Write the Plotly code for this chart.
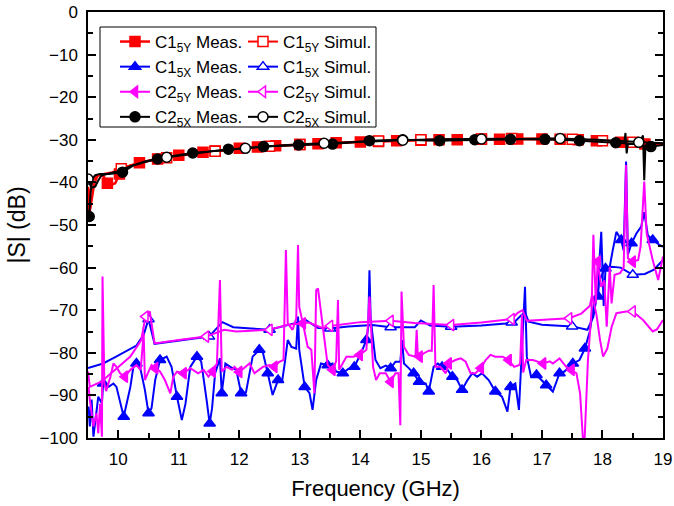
import numpy as np
import plotly.graph_objects as go

# ---------------- data ----------------
# C1 5Y, measured
c1y_meas_f = [9.50, 9.52, 9.55, 9.60, 9.65, 9.70, 9.76, 9.82, 9.88, 9.95, 10.02, 10.08, 10.2, 10.35,
              10.5, 10.65, 10.8, 11.0, 11.2, 11.4, 11.6, 11.8, 12.0, 12.3, 12.6, 13.0, 13.3, 13.6,
              14.0, 14.3, 14.6, 15.0, 15.3, 15.6, 16.0, 16.3, 16.6, 17.0, 17.3, 17.6, 17.9, 18.1,
              18.3, 18.5, 18.7, 18.9, 19.0]
c1y_meas_s = [-41.0, -47.5, -45.0, -40.5, -38.6, -38.2, -38.6, -40.2, -40.6, -40.2, -38.0, -36.8, -36.0, -35.4,
              -34.9, -34.5, -34.1, -33.6, -33.2, -32.9, -32.6, -32.3, -32.0, -31.7, -31.4, -31.1, -30.9, -30.7,
              -30.5, -30.4, -30.2, -30.1, -30.0, -30.0, -29.9, -29.9, -29.8, -29.8, -29.9, -30.0, -30.2, -30.4,
              -30.6, -30.8, -31.0, -31.0, -30.8]
c1y_meas_mk = [9.82, 10.0, 10.35, 10.65, 11.0, 11.4, 11.6, 12.0, 12.3, 12.6, 13.0, 13.3, 13.6, 14.0, 14.3,
               14.6, 15.0, 15.3, 15.6, 16.0, 16.3, 16.6, 17.0, 17.3, 17.6, 17.9, 18.3, 18.7]

# C1 5Y, simulated
c1y_sim_f = [9.50, 9.53, 9.58, 9.65, 9.75, 9.9, 10.05, 10.2, 10.5, 10.8, 11.2, 11.6, 12.0, 12.5, 13.0,
             13.5, 14.0, 14.3, 14.5, 15.0, 15.5, 16.0, 16.5, 17.0, 17.5, 18.0, 18.5, 19.0]
c1y_sim_s = [-45.0, -42.0, -39.5, -38.4, -38.0, -37.6, -36.8, -36.0, -35.0, -34.2, -33.4, -32.7, -32.1, -31.5, -31.1,
             -30.7, -30.4, -30.3, -30.2, -30.0, -29.9, -29.8, -29.7, -29.7, -29.9, -30.2, -30.6, -31.0]
c1y_sim_mk = [10.05, 10.8, 11.6, 12.5, 13.0, 14.3, 15.0, 16.0, 16.5, 17.5, 18.0, 18.5]

# C1 5X, measured
c1x_meas_f = [9.51, 9.53, 9.56, 9.59, 9.67, 9.73, 9.75, 9.84, 9.92, 9.97, 10.09, 10.20, 10.25, 10.30, 10.37,
              10.44, 10.50, 10.55, 10.61, 10.69, 10.80, 10.88, 10.97, 11.05, 11.11, 11.19, 11.30, 11.37,
              11.46, 11.51, 11.55, 11.60, 11.68, 11.71, 11.77, 11.85, 11.95, 12.03, 12.11, 12.22, 12.33,
              12.39, 12.47, 12.55, 12.64, 12.71, 12.75, 12.80, 12.86, 12.94, 12.97, 12.99, 13.08, 13.16,
              13.21, 13.27, 13.35, 13.46, 13.54, 13.60, 13.71, 13.80, 13.90, 14.01, 14.10, 14.13, 14.15,
              14.17, 14.25, 14.33, 14.42, 14.50, 14.58, 14.66, 14.69, 14.72, 14.80, 14.88, 14.97, 15.08,
              15.13, 15.21, 15.28, 15.35, 15.44, 15.52, 15.60, 15.68, 15.77, 15.85, 15.93, 16.01, 16.12,
              16.23, 16.34, 16.43, 16.48, 16.56, 16.62, 16.66, 16.72, 16.75, 16.82, 16.91, 16.99, 17.07,
              17.18, 17.24, 17.29, 17.37, 17.51, 17.62, 17.71, 17.79, 17.87, 17.93, 17.95, 17.98, 18.02,
              18.05, 18.12, 18.17, 18.23, 18.31, 18.35, 18.39, 18.42, 18.48, 18.56, 18.64, 18.69, 18.75,
              18.83, 18.94, 19.0]
c1x_meas_s = [-92.6, -97.3, -91.0, -99.7, -90.3, -91.9, -87.2, -88.0, -87.2, -88.0, -95.0, -88.0, -83.3, -82.5, -84.0,
              -88.7, -94.2, -93.0, -86.4, -81.7, -80.9, -83.3, -90.3, -95.8, -92.0, -83.3, -80.9, -82.0,
              -91.1, -96.6, -93.0, -84.8, -81.3, -89.5, -82.5, -83.3, -84.0, -89.5, -89.3, -80.9, -79.3,
              -80.0, -84.8, -89.9, -86.4, -86.4, -82.5, -77.0, -78.6, -79.0, -71.5, -79.3, -88.0, -89.5,
              -93.4, -86.4, -82.5, -82.9, -82.5, -84.4, -84.8, -83.8, -83.3, -80.1, -77.0, -74.0, -60.6,
              -72.0, -81.7, -83.6, -83.0, -83.6, -82.1, -82.1, -77.0, -82.5, -83.6, -84.8, -86.8, -87.2,
              -89.1, -83.3, -82.5, -83.3, -84.0, -85.6, -86.4, -88.7, -86.4, -84.8, -85.6, -84.8, -86.4,
              -89.1, -90.3, -93.8, -88.0, -87.2, -93.4, -82.0, -64.5, -80.9, -85.6, -85.2, -86.4, -87.6,
              -89.1, -86.8, -84.8, -84.4, -82.5, -81.7, -79.0, -75.0, -67.6, -66.8, -58.2, -51.6, -69.0,
              -60.2, -59.8, -55.9, -51.6, -53.5, -56.0, -35.1, -57.0, -54.3, -52.0, -50.4, -47.0, -52.5,
              -53.5, -54.7, -55.1]
c1x_meas_mk = [9.75, 10.09, 10.30, 10.50, 10.69, 10.97, 11.30, 11.51, 11.71, 12.03, 12.33, 12.47, 12.64,
               13.08, 13.46, 13.71, 13.90, 14.10, 14.50, 14.88, 14.97, 15.13, 15.35, 15.52, 15.68, 16.23,
               16.48, 16.91, 17.07, 17.29, 17.51, 17.71, 17.93, 18.05, 18.31, 18.48, 18.83]

# C1 5X, simulated
c1x_sim_f = [9.50, 9.75, 9.95, 10.15, 10.3, 10.42, 10.5, 10.6, 11.0, 11.5, 11.72, 11.9, 12.2, 12.5, 12.8,
             13.1, 13.3, 13.5, 13.8, 14.2, 14.5, 14.9, 15.0, 15.15, 15.5, 16.0, 16.4, 16.5, 16.55, 16.65,
             16.72, 16.78, 17.0, 17.5, 17.75, 17.85, 17.95, 18.03, 18.15, 18.3, 18.5, 18.7, 18.85, 19.0]
c1x_sim_s = [-83.6, -82.5, -81.0, -79.5, -78.3, -75.8, -72.1, -77.9, -77.2, -76.2, -72.8, -74.0, -74.3, -74.6, -73.5,
             -72.3, -74.2, -74.3, -73.8, -73.5, -74.0, -74.0, -72.4, -73.6, -73.9, -73.6, -73.1, -72.9, -72.7, -71.3,
             -70.5, -72.7, -73.4, -73.8, -74.6, -71.5, -63.0, -60.5, -59.8, -60.0, -61.7, -61.5, -60.5, -58.2]
c1x_sim_mk = [10.5, 11.5, 12.5, 13.5, 14.5, 15.5, 16.5, 17.5, 18.5]

# C2 5Y, measured
c2y_meas_f = [9.51, 9.53, 9.59, 9.64, 9.67, 9.70, 9.73, 9.74, 9.77, 9.80, 9.87, 9.92, 9.97, 10.03, 10.11,
              10.20, 10.30, 10.37, 10.42, 10.44, 10.50, 10.55, 10.61, 10.69, 10.77, 10.86, 10.91, 10.97,
              11.08, 11.19, 11.32, 11.41, 11.49, 11.56, 11.63, 11.68, 11.71, 11.79, 11.88, 11.92, 12.0,
              12.17, 12.25, 12.39, 12.50, 12.58, 12.66, 12.73, 12.77, 12.80, 12.88, 12.94, 12.97, 12.99,
              13.05, 13.13, 13.19, 13.24, 13.27, 13.30, 13.38, 13.46, 13.54, 13.60, 13.63, 13.65, 13.77,
              13.88, 13.99, 14.10, 14.15, 14.21, 14.26, 14.32, 14.42, 14.50, 14.58, 14.63, 14.66, 14.68,
              14.72, 14.80, 14.91, 14.93, 14.95, 14.98, 15.05, 15.13, 15.18, 15.21, 15.24, 15.32, 15.41,
              15.46, 15.57, 15.66, 15.74, 15.82, 15.90, 15.99, 16.07, 16.15, 16.23, 16.35, 16.45, 16.54,
              16.62, 16.64, 16.67, 16.69, 16.74, 16.85, 17.02, 17.13, 17.18, 17.29, 17.40, 17.49, 17.57,
              17.63, 17.68, 17.70, 17.73, 17.76, 17.82, 17.85, 17.89, 17.92, 17.98, 18.03, 18.07, 18.12,
              18.15, 18.20, 18.29, 18.35, 18.39, 18.42, 18.50, 18.59, 18.63, 18.69, 18.73, 18.83, 18.92,
              18.97, 19.0]
c2y_meas_s = [-88.0, -91.1, -97.3, -94.2, -98.9, -92.0, -99.7, -62.1, -87.2, -89.0, -85.6, -82.5, -83.3, -84.8, -85.6,
              -84.0, -82.9, -84.0, -75.4, -86.4, -84.4, -82.9, -83.6, -84.4, -86.4, -89.5, -85.6, -84.4,
              -84.8, -83.6, -84.8, -84.0, -85.6, -84.4, -82.5, -62.9, -84.4, -83.3, -84.0, -83.3, -84.5,
              -82.5, -84.8, -83.3, -82.9, -83.3, -82.1, -81.7, -55.9, -73.1, -74.6, -72.0, -54.7, -69.2,
              -73.1, -78.6, -79.3, -89.5, -65.3, -64.9, -73.9, -82.9, -84.0, -82.0, -67.6, -84.0, -80.9,
              -80.9, -80.5, -79.3, -66.8, -83.3, -86.4, -84.8, -84.8, -86.8, -84.8, -84.8, -97.0, -65.6,
              -78.6, -80.5, -80.9, -74.6, -80.9, -80.9, -80.1, -79.5, -79.5, -64.1, -83.3, -83.3, -84.8,
              -82.5, -81.7, -81.3, -82.1, -84.8, -84.8, -83.6, -81.7, -80.5, -80.9, -80.9, -81.7, -83.3,
              -82.9, -82.5, -71.0, -84.6, -81.7, -81.7, -82.5, -82.0, -82.5, -81.3, -83.3, -84.0, -84.8,
              -89.5, -101.0, -102.0, -91.1, -81.7, -70.0, -52.3, -68.4, -58.6, -64.5, -63.0, -73.9, -59.8,
              -68.4, -61.7, -61.3, -60.0, -35.9, -57.8, -58.6, -58.2, -55.0, -39.8, -52.0, -58.2, -62.9,
              -59.0, -57.4]
c2y_meas_mk = [10.11, 10.59, 11.08, 11.57, 12.06, 12.55, 13.04, 13.53, 14.02, 14.51, 14.98, 15.49, 15.98,
               16.47, 16.96, 17.45, 17.94, 18.50]

# C2 5Y, simulated
c2y_sim_f = [9.50, 9.53, 9.72, 9.95, 10.2, 10.38, 10.45, 10.52, 10.6, 11.0, 11.45, 11.75, 11.95, 12.5, 12.77,
             13.15, 13.38, 13.5, 14.0, 14.5, 14.9, 15.5, 16.0, 16.5, 16.6, 16.68, 16.75, 17.1, 17.45, 17.65,
             17.79, 17.83, 17.9, 17.96, 18.01, 18.08, 18.15, 18.23, 18.39, 18.5, 18.67, 18.83, 18.9, 19.0]
c2y_sim_s = [-84.4, -88.0, -86.8, -84.0, -80.9, -77.0, -71.5, -70.3, -77.8, -77.0, -76.2, -74.6, -75.0, -74.6, -73.5,
             -72.9, -74.2, -73.7, -72.8, -72.5, -73.0, -73.5, -72.9, -72.1, -70.6, -70.0, -72.5, -72.2, -71.9, -70.8,
             -69.0, -66.4, -71.0, -77.0, -80.9, -79.0, -74.0, -70.7, -70.3, -70.3, -72.3, -75.0, -74.5, -72.3]
c2y_sim_mk = [10.45, 11.45, 12.5, 13.5, 14.5, 15.5, 16.5, 17.45, 18.5]

# C2 5X, measured
c2x_meas_f = [9.50, 9.52, 9.54, 9.57, 9.62, 9.70, 9.85, 10.07, 10.25, 10.45, 10.65, 10.9, 11.23, 11.5,
              11.82, 12.1, 12.40, 12.7, 12.98, 13.25, 13.54, 13.85, 14.15, 14.4, 14.70, 15.0, 15.31, 15.6,
              15.89, 16.2, 16.48, 16.75, 17.05, 17.35, 17.62, 17.9, 18.22, 18.36, 18.38, 18.40, 18.42,
              18.5, 18.6, 18.67, 18.69, 18.71, 18.80, 18.9, 19.0]
c2x_meas_s = [-46.5, -48.0, -43.0, -39.2, -38.3, -38.0, -38.0, -37.6, -36.0, -35.0, -34.5, -33.8, -33.1, -32.7,
              -32.2, -31.9, -31.6, -31.4, -31.2, -31.1, -31.0, -30.6, -30.2, -30.1, -30.0, -30.1, -30.2, -30.1,
              -30.0, -29.9, -29.9, -29.9, -29.9, -30.0, -30.2, -30.4, -30.7, -30.8, -28.4, -33.2, -30.9,
              -31.0, -31.0, -29.0, -39.5, -31.4, -31.6, -31.4, -31.2]
c2x_meas_mk = [9.52, 10.07, 10.65, 11.23, 11.82, 12.40, 12.98, 13.54, 14.15, 14.70, 15.31, 15.89, 16.48,
               17.05, 17.62, 18.22, 18.80]

# C2 5X, simulated
c2x_sim_f = [9.50, 9.53, 9.57, 9.62, 9.66, 9.72, 9.85, 10.0, 10.2, 10.5, 10.8, 11.2, 11.6, 12.1, 12.6,
             13.1, 13.4, 14.1, 14.7, 15.3, 16.0, 16.6, 17.3, 17.9, 18.3, 18.6, 18.8, 19.0]
c2x_sim_s = [-39.2, -40.5, -41.2, -41.0, -39.8, -38.4, -37.9, -37.4, -36.2, -35.0, -34.1, -33.3, -32.6, -32.0, -31.4,
             -31.0, -30.8, -30.4, -30.1, -29.9, -29.8, -29.7, -29.7, -30.0, -30.3, -30.6, -30.8, -30.8]
c2x_sim_mk = [9.50, 10.8, 12.1, 13.4, 14.7, 16.0, 17.3, 18.6]

# ---------------- figure ----------------
RED, BLUE, MAG, BLK = "#FF0000", "#0000FF", "#FF00FF", "#000000"
FONT = "Liberation Sans, Arial, sans-serif"

fig = go.Figure()
legend_entries = []


def add_series(name, f, s, mk, color, symbol, hollow, legend, width=2.0, msize=10):
    f = np.asarray(f, dtype=float)
    s = np.asarray(s, dtype=float)
    idx = sorted({int(np.argmin(np.abs(f - m))) for m in mk})
    marker = dict(symbol=symbol, size=msize,
                  color="white" if hollow else color,
                  line=dict(color=color, width=1.5))
    fig.add_trace(go.Scatter(x=f, y=s, mode="lines", line=dict(color=color, width=width),
                             showlegend=False, hoverinfo="skip"))
    fig.add_trace(go.Scatter(x=f[idx], y=s[idx], mode="markers", marker=marker,
                             showlegend=False, hoverinfo="skip"))
    legend_entries.append(dict(name=name, color=color, width=width, marker=marker, legend=legend))


add_series("C1<sub>5Y</sub> Meas.", c1y_meas_f, c1y_meas_s, c1y_meas_mk, RED, "square", False, "legend", 2.5)
add_series("C1<sub>5Y</sub> Simul.", c1y_sim_f, c1y_sim_s, c1y_sim_mk, RED, "square", True, "legend2")
add_series("C1<sub>5X</sub> Meas.", c1x_meas_f, c1x_meas_s, c1x_meas_mk, BLUE, "triangle-up", False, "legend")
add_series("C1<sub>5X</sub> Simul.", c1x_sim_f, c1x_sim_s, c1x_sim_mk, BLUE, "triangle-up", True, "legend2")
add_series("C2<sub>5Y</sub> Meas.", c2y_meas_f, c2y_meas_s, c2y_meas_mk, MAG, "triangle-left", False, "legend")
add_series("C2<sub>5Y</sub> Simul.", c2y_sim_f, c2y_sim_s, c2y_sim_mk, MAG, "triangle-left", True, "legend2")
add_series("C2<sub>5X</sub> Meas.", c2x_meas_f, c2x_meas_s, c2x_meas_mk, BLK, "circle", False, "legend")
add_series("C2<sub>5X</sub> Simul.", c2x_sim_f, c2x_sim_s, c2x_sim_mk, BLK, "circle", True, "legend2")

for e in legend_entries:
    fig.add_trace(go.Scatter(x=[None], y=[None], mode="lines+markers", name=e["name"],
                             line=dict(color=e["color"], width=e["width"]), marker=e["marker"],
                             legend=e["legend"], showlegend=True))

W, H = 674, 506
ML, MR, MT, MB = 88, 11, 12, 68
pw, ph = W - ML - MR, H - MT - MB


def px_x(p):
    return (p - ML) / pw


def px_y(p):
    return 1 - (p - MT) / ph


legend_style = dict(xanchor="left", yanchor="top",
                    bgcolor="rgba(0,0,0,0)", borderwidth=0, tracegroupgap=0,
                    font=dict(family=FONT, size=17, color="black"))

axis_common = dict(showline=True, linecolor="black", linewidth=1.5, ticks="inside",
                   tickcolor="black", tickwidth=1.5, ticklen=8, showgrid=False, zeroline=False,
                   tickfont=dict(family=FONT, size=17, color="black"))

fig.update_layout(
    width=W, height=H,
    margin=dict(l=ML, r=MR, t=MT, b=MB, autoexpand=False),
    paper_bgcolor="white", plot_bgcolor="white",
    font=dict(family=FONT, color="black"),
    xaxis=dict(range=[9.5, 19], tick0=10, dtick=1, mirror=True,
               minor=dict(ticks="inside", ticklen=5, dtick=0.5, tickcolor="black", tickwidth=1.5),
               title=dict(text="Frequency (GHz)", font=dict(family=FONT, size=22), standoff=12),
               ticklabelstandoff=5, **axis_common),
    yaxis=dict(range=[-100, 0], tick0=0, dtick=10, mirror="ticks",
               minor=dict(ticks="inside", ticklen=5, dtick=5, tickcolor="black", tickwidth=1.5),
               title=dict(text="|S| (dB)", font=dict(family=FONT, size=23), standoff=8),
               ticklabelstandoff=5, **axis_common),
    legend=dict(x=px_x(115), y=px_y(24), **legend_style),
    legend2=dict(x=px_x(243), y=px_y(24), **legend_style),
    shapes=[dict(type="rect", xref="paper", yref="paper",
                 x0=px_x(100), x1=px_x(376), y0=px_y(127), y1=px_y(27),
                 line=dict(color="black", width=1), fillcolor="white", layer="below")],
)

fig.write_html("out.html")
